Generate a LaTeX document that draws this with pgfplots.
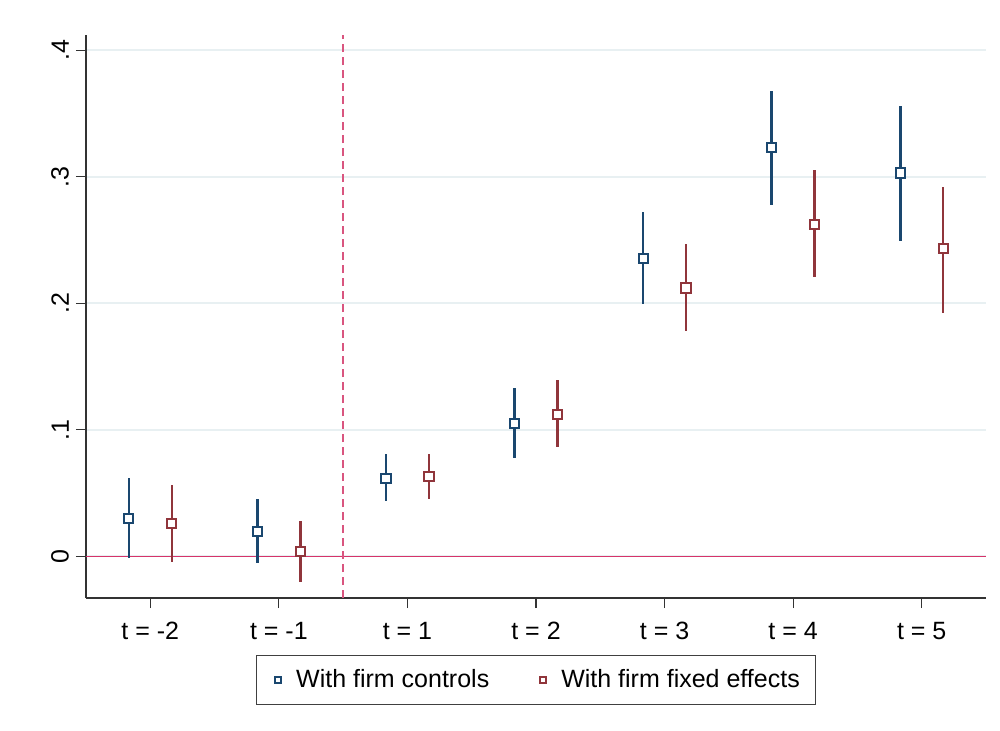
\documentclass[border=0pt]{standalone}
\usepackage{fontspec}
\setmainfont{Liberation Sans}
\usepackage{pgfplots}
\usepackage{pgfplotstable}
\pgfplotsset{compat=1.18}
\definecolor{sblue}{HTML}{1A476F}
\definecolor{sred}{HTML}{90353B}
\definecolor{zline}{HTML}{D6336A}
\definecolor{vline}{HTML}{D9557F}
\definecolor{gridc}{HTML}{E8F0F2}
\pgfplotstableread{
x y lo hi
0.833 0.0300 -0.0016 0.0617
1.833 0.0198 -0.0055 0.0450
2.833 0.0617 0.0435 0.0810
3.833 0.1050 0.0780 0.1330
4.833 0.2356 0.1990 0.2720
5.833 0.3230 0.2780 0.3680
6.833 0.3030 0.2490 0.3560
}\bluedata
\pgfplotstableread{
x y lo hi
1.167 0.0260 -0.0047 0.0560
2.167 0.0040 -0.0200 0.0280
3.167 0.0630 0.0450 0.0810
4.167 0.1120 0.0860 0.1390
5.167 0.2120 0.1780 0.2470
6.167 0.2620 0.2205 0.3050
7.167 0.2430 0.1920 0.2920
}\reddata
\begin{document}
\begin{tikzpicture}
\begin{axis}[name=ax, scale only axis, width=450pt, height=281.5pt,
 xmin=0.5, xmax=7.5, ymin=-0.033, ymax=0.412,
 axis x line*=bottom, axis y line*=left,
 axis line style={line width=0.6pt, color=black!80},
 xtick={1,2,3,4,5,6,7},
 xticklabels={t = -2, t = -1, t = 1, t = 2, t = 3, t = 4, t = 5},
 ytick={0,0.1,0.2,0.3,0.4}, yticklabels={0,.1,.2,.3,.4},
 yticklabel style={rotate=90, anchor=south},
 xticklabel style={yshift=-3.5pt},
 tick align=outside, major tick length=5pt,
 tick style={line width=0.6pt, black!80},
 ymajorgrids, grid style={gridc, line width=0.8pt},
 /pgf/number format/assume math mode=true,
 tick label style={font=\fontsize{12.5}{15}\selectfont},
 legend style={at={(0.5,-0.101)}, anchor=north, legend columns=2,
   draw=black!75, line width=0.6pt, font=\fontsize{12.5}{15}\selectfont,
   inner xsep=6pt, inner ysep=5pt,
   /tikz/every even column/.append style={column sep=20pt}},
 legend cell align=left,
 legend image code/.code={\path[draw=none] (0pt,0pt) -- (12pt,0pt); \draw[#1, only marks, mark size=1.5pt, line width=0.8pt] plot coordinates {(5pt,0pt)};},
]
\addplot[zline, line width=0.75pt, forget plot] coordinates {(0.5,0) (7.5,0)};
\addplot[vline, line width=0.75pt, dash pattern=on 4pt off 2.5pt, forget plot] coordinates {(2.5,-0.033) (2.5,0.412)};
\addplot[only marks, mark=square*, mark size=2.3pt, mark options={fill=white, draw=sblue, line width=1pt},
  error bars/.cd, y dir=both, y explicit, error mark=none,
  error bar style={line width=1.25pt, sblue}]
  table[x=x, y=y, y error plus expr=\thisrow{hi}-\thisrow{y}, y error minus expr=\thisrow{y}-\thisrow{lo}] {\bluedata};
\addlegendentry{With firm controls}
\addplot[only marks, mark=square*, mark size=2.3pt, mark options={fill=white, draw=sred, line width=1pt},
  error bars/.cd, y dir=both, y explicit, error mark=none,
  error bar style={line width=1.25pt, sred}]
  table[x=x, y=y, y error plus expr=\thisrow{hi}-\thisrow{y}, y error minus expr=\thisrow{y}-\thisrow{lo}] {\reddata};
\addlegendentry{With firm fixed effects\hspace{3pt}}
\end{axis}
\pgfresetboundingbox
\path[use as bounding box] ([xshift=-43pt,yshift=-66pt]ax.south west) rectangle ([xshift=7pt,yshift=17.5pt]ax.north east);
\end{tikzpicture}
\end{document}
